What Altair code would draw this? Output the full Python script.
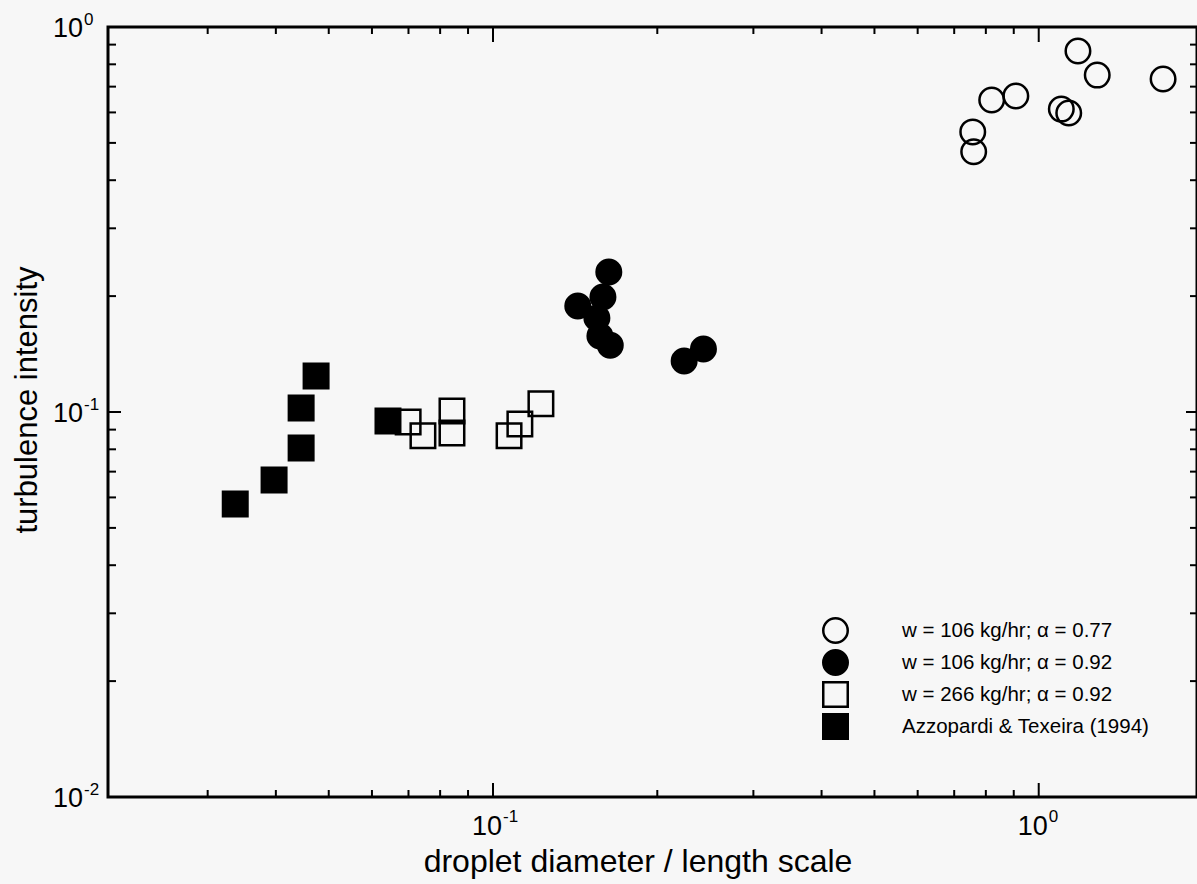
import altair as alt
import pandas as pd

# --- measured series -------------------------------------------------------
open_circle_x = [1.18, 1.28, 1.69, 0.908, 0.82, 1.10, 1.135, 0.757, 0.760]
open_circle_y = [0.866, 0.750, 0.733, 0.662, 0.646, 0.612, 0.598, 0.534, 0.474]

filled_circle_x = [0.163, 0.159, 0.143, 0.155, 0.157, 0.164, 0.224, 0.243]
filled_circle_y = [0.231, 0.199, 0.1885, 0.1755, 0.1575, 0.149, 0.1357, 0.1458]

open_square_x = [0.0699, 0.0744, 0.0841, 0.0841, 0.107, 0.112, 0.1224]
open_square_y = [0.0942, 0.0867, 0.1006, 0.0882, 0.0867, 0.0931, 0.105]

filled_square_x = [0.0337, 0.0397, 0.0445, 0.0445, 0.0474, 0.0642]
filled_square_y = [0.0577, 0.0666, 0.0806, 0.1024, 0.124, 0.0948]

series_names = [
    "w = 106 kg/hr; \u03b1 = 0.77",
    "w = 106 kg/hr; \u03b1 = 0.92",
    "w = 266 kg/hr; \u03b1 = 0.92",
    "Azzopardi & Texeira (1994)",
]

x_title = ["droplet diameter / length scale"]
y_title = ["turbulence intensity"]

# --- axis decorations ------------------------------------------------------
x_major = [0.1, 1.0]
x_minor = [0.03, 0.04, 0.05, 0.06, 0.07, 0.08, 0.09,
           0.2, 0.3, 0.4, 0.5, 0.6, 0.7, 0.8, 0.9]
y_major = [0.1]
y_minor = [0.02, 0.03, 0.04, 0.05, 0.06, 0.07, 0.08, 0.09,
           0.2, 0.3, 0.4, 0.5, 0.6, 0.7, 0.8, 0.9]
x_label_values = [0.1, 1.0]
x_label_exps = ["-1", "0"]
y_label_values = [1.0, 0.1, 0.01]
y_label_exps = ["0", "-1", "-2"]

W, H = 1089, 770
FONT = "Liberation Sans"

rows = []
for name, xs_, ys_ in zip(series_names,
                          [open_circle_x, filled_circle_x, open_square_x, filled_square_x],
                          [open_circle_y, filled_circle_y, open_square_y, filled_square_y]):
    for a, b in zip(xs_, ys_):
        rows.append({"d": a, "t": b, "series": name})
points_df = pd.DataFrame(rows)

xs = alt.Scale(type="log", domain=[0.0197, 1.95], nice=False)
ys = alt.Scale(type="log", domain=[0.01, 1.0], nice=False)

legend = alt.Legend(
    title=None, orient="none", legendX=714, legendY=590, padding=0,
    rowPadding=-3, labelOffset=53, labelFontSize=20.5, labelFont=FONT,
    labelColor="black", labelLimit=500, symbolStrokeWidth=2.5,
)

points = alt.Chart(points_df).mark_point(
    filled=True, strokeWidth=2.5, opacity=1
).encode(
    x=alt.X("d:Q", scale=xs, axis=None),
    y=alt.Y("t:Q", scale=ys, axis=None),
    shape=alt.Shape("series:N", scale=alt.Scale(
        domain=series_names, range=["circle", "circle", "square", "square"]), legend=legend),
    fill=alt.Fill("series:N", scale=alt.Scale(
        domain=series_names, range=["transparent", "black", "transparent", "black"]), legend=legend),
    stroke=alt.Stroke("series:N", scale=alt.Scale(
        domain=series_names, range=["black", "black", "black", "black"]), legend=legend),
    size=alt.Size("series:N", scale=alt.Scale(
        domain=series_names, range=[600, 600, 400, 441]), legend=legend),
)

xmaj = pd.DataFrame({"v": x_major})
xmin = pd.DataFrame({"v": x_minor})
ymaj = pd.DataFrame({"v": y_major})
ymin = pd.DataFrame({"v": y_minor})


def xticks(df, y0, y1):
    return alt.Chart(df).mark_rule(color="black", strokeWidth=2).encode(
        x=alt.X("v:Q", scale=xs, axis=None), y=alt.value(y0), y2=alt.value(y1))


def yticks(df, x0, x1):
    return alt.Chart(df).mark_rule(color="black", strokeWidth=2).encode(
        y=alt.Y("v:Q", scale=ys, axis=None), x=alt.value(x0), x2=alt.value(x1))


ticks = [
    xticks(xmin, H, H - 7), xticks(xmin, 0, 7),
    xticks(xmaj, H, H - 14), xticks(xmaj, 0, 15),
    yticks(ymin, 0, 8), yticks(ymin, W, W - 7),
    yticks(ymaj, 0, 13), yticks(ymaj, W, W - 11),
]

xlab = pd.DataFrame({"v": x_label_values, "base": ["10"] * len(x_label_values), "exp": x_label_exps})
ylab = pd.DataFrame({"v": y_label_values, "base": ["10"] * len(y_label_values), "exp": y_label_exps})

x_base = alt.Chart(xlab).mark_text(
    align="right", baseline="alphabetic", font=FONT, fontSize=27, color="black", dx=9
).encode(x=alt.X("v:Q", scale=xs, axis=None), y=alt.value(808), text="base:N")
x_exp = alt.Chart(xlab).mark_text(
    align="left", baseline="alphabetic", font=FONT, fontSize=17, color="black", dx=10
).encode(x=alt.X("v:Q", scale=xs, axis=None), y=alt.value(795), text="exp:N")

y_base = alt.Chart(ylab).mark_text(
    align="right", baseline="alphabetic", font=FONT, fontSize=27, color="black", dy=10
).encode(y=alt.Y("v:Q", scale=ys, axis=None), x=alt.value(-25), text="base:N")
y_exp = alt.Chart(ylab).mark_text(
    align="left", baseline="alphabetic", font=FONT, fontSize=17, color="black", dy=-2
).encode(y=alt.Y("v:Q", scale=ys, axis=None), x=alt.value(-24), text="exp:N")

# axis titles
x_title_mark = alt.Chart(pd.DataFrame({"label": x_title})).mark_text(
    align="center", baseline="alphabetic", font=FONT, fontSize=32, color="black"
).encode(x=alt.value(530), y=alt.value(845), text="label:N")
y_title_mark = alt.Chart(pd.DataFrame({"label": y_title})).mark_text(
    align="center", baseline="alphabetic", font=FONT, fontSize=31, color="black", angle=270
).encode(x=alt.value(-71), y=alt.value(373), text="label:N")

chart = alt.layer(
    points, *ticks, x_base, x_exp, y_base, y_exp, x_title_mark, y_title_mark
).properties(
    width=W, height=H,
    autosize=alt.AutoSizeParams(type="none"),
    padding={"left": 108, "top": 27, "right": 0, "bottom": 87},
    background="#f7f7f7",
).configure_view(
    stroke="black", strokeWidth=3
)

chart.save("out.html", embed_options={"renderer": "svg", "actions": False})
